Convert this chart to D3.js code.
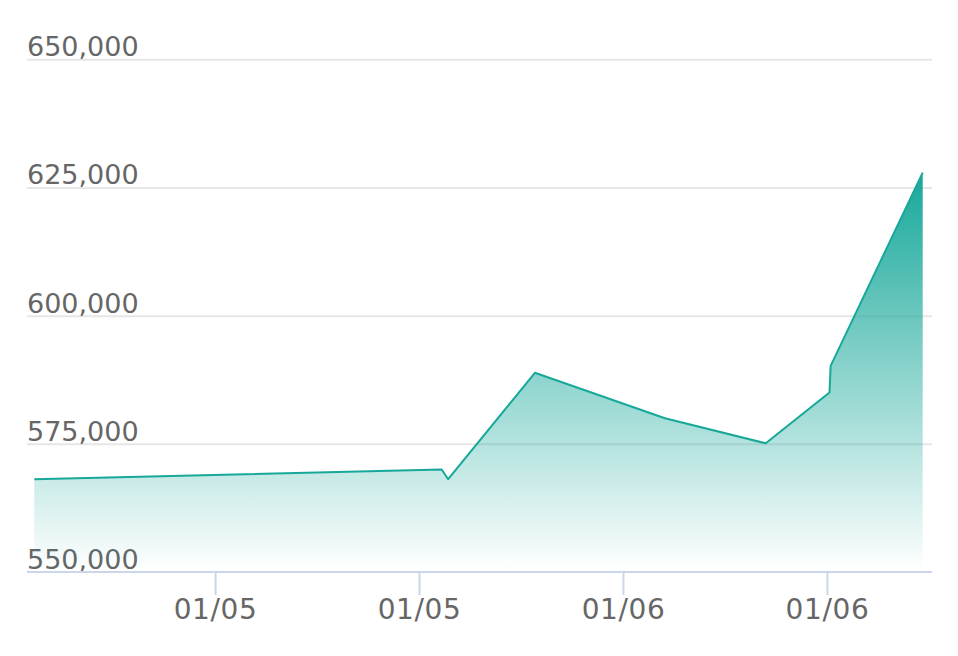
<!DOCTYPE html>
<html>
<head>
<meta charset="utf-8">
<script src="https://d3js.org/d3.v7.min.js"></script>
<style>
  body { margin: 0; background: #fff; }
  text { font-family: "DejaVu Sans", Verdana, sans-serif; fill: #666; }
  .gridlines .domain { display: none; }
  .gridlines line { stroke: #e6e6e6; stroke-width: 2; }
  .xaxis .domain { display: none; }
  .xaxis line { stroke: #ccd6eb; stroke-width: 2; }
</style>
</head>
<body>
<svg id="chart" width="958" height="656"></svg>
<script>
// data
const times = ["2024-01-04 13:22", "2024-01-05 13:20", "2024-01-05 13:43", "2024-01-05 18:49",
               "2024-01-06 02:28", "2024-01-06 08:24", "2024-01-06 12:09", "2024-01-06 12:13",
               "2024-01-06 17:38"];
const values = [568100, 570000, 568100, 588850, 580000, 575100, 585000, 590200, 627900];
const yTicks = [550000, 575000, 600000, 625000, 650000];

const svg = d3.select("#chart");
const parse = d3.timeParse("%Y-%m-%d %H:%M");
const data = times.map((t, i) => ({ date: parse(t), value: values[i] }));

const plotLeft = 27, plotRight = 932;
const teal = "#17a89a";

const x = d3.scaleTime()
    .domain(d3.extent(data, d => d.date))
    .range([34.3, 922.7]);

const y = d3.scaleLinear()
    .domain([550000, 650000])
    .range([572, 59.3]);

// gradient for the area
const grad = svg.append("defs").append("linearGradient")
    .attr("id", "fade")
    .attr("x1", 0).attr("y1", 0).attr("x2", 0).attr("y2", 1);
grad.append("stop").attr("offset", 0).attr("stop-color", teal).attr("stop-opacity", 1);
grad.append("stop").attr("offset", 1).attr("stop-color", teal).attr("stop-opacity", 0);

// horizontal gridlines
const yAxis = d3.axisRight(y)
    .tickValues(yTicks.slice(1))
    .tickSize(plotRight - plotLeft)
    .tickFormat(d3.format(","));

const gy = svg.append("g")
    .attr("class", "gridlines")
    .attr("transform", `translate(${plotLeft},0)`)
    .call(yAxis);

gy.selectAll("text").remove();

// y labels sit just above each line
svg.append("g").selectAll("text")
    .data(yTicks)
    .join("text")
    .attr("x", plotLeft)
    .attr("y", d => y(d) - 3)
    .style("font-size", "27px")
    .text(d => d3.format(",")(d));

// area + line
const area = d3.area()
    .x(d => x(d.date))
    .y0(y(550000))
    .y1(d => y(d.value));

const line = d3.line()
    .x(d => x(d.date))
    .y(d => y(d.value));

svg.append("path")
    .datum(data)
    .attr("d", area)
    .attr("fill", "url(#fade)");

svg.append("path")
    .datum(data)
    .attr("d", line)
    .attr("fill", "none")
    .attr("stroke", teal)
    .attr("stroke-width", 2)
    .attr("stroke-linejoin", "round");

// x axis
const xAxis = d3.axisBottom(x)
    .ticks(d3.timeHour.every(12))
    .tickSize(23)
    .tickPadding(0)
    .tickFormat(d3.timeFormat("%m/%d"));

const gx = svg.append("g")
    .attr("class", "xaxis")
    .attr("transform", "translate(0,572)")
    .call(xAxis);

gx.selectAll("text")
    .attr("y", 47)
    .attr("dy", 0)
    .style("font-size", "28px")
    .style("letter-spacing", "0.6px")
    .attr("fill", "#666");

svg.append("line")
    .attr("x1", plotLeft).attr("x2", plotRight)
    .attr("y1", y(550000)).attr("y2", y(550000))
    .attr("stroke", "#ccd6eb")
    .attr("stroke-width", 2);
</script>
</body>
</html>
